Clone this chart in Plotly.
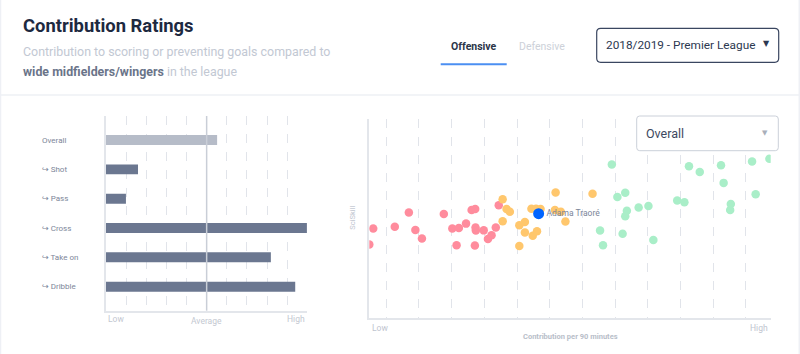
import plotly.graph_objects as go

W, H = 800, 354

# ---------------- data ----------------
bar_categories = ["Overall", "↪ Shot", "↪ Pass", "↪ Cross", "↪ Take on", "↪ Dribble"]
bar_values = [5.52, 1.59, 0.99, 9.98, 8.19, 9.40]
bar_tick_labels = ["Low", "Average", "High"]
bar_tick_values = [0, 5, 10]

red_x = [-0.52, -0.40, 0.26, 0.69, 0.89, 1.09, 1.76, 2.02, 2.22, 2.15, 2.44, 2.61, 2.72, 2.73, 2.74, 2.71, 2.98, 3.11, 3.22, 3.35, 3.44]
red_y = [37.0, 45.0, 45.9, 53.1, 44.3, 40.0, 52.3, 45.1, 45.3, 36.6, 47.5, 54.3, 54.9, 45.5, 44.0, 36.5, 44.1, 39.8, 41.7, 45.6, 56.8]

orange_x = [3.56, 3.68, 3.78, 3.56, 4.07, 4.24, 4.24, 4.07, 4.48, 4.61, 4.44, 4.58, 4.72, 5.18, 5.16, 5.34, 5.48, 6.31]
orange_y = [59.8, 54.9, 53.5, 48.7, 46.7, 48.3, 43.0, 36.2, 41.4, 43.7, 55.0, 55.0, 54.8, 63.2, 54.4, 53.5, 48.6, 62.5]

green_x = [6.90, 6.54, 6.63, 7.07, 7.31, 7.36, 7.31, 7.23, 7.72, 8.02, 8.17, 8.90, 9.12, 9.26, 9.59, 10.24, 10.32, 10.54, 10.52, 11.19, 11.72, 11.30]
green_y = [77.2, 44.0, 36.6, 60.9, 63.0, 54.0, 51.2, 42.4, 55.6, 56.4, 39.3, 59.1, 58.2, 76.4, 73.5, 76.9, 68.0, 57.4, 54.3, 78.8, 80.1, 62.3]

player_name = ["Adama Traoré"]
player_x = [4.66]
player_y = [52.5]

scatter_tick_labels = ["Low", "High"]

# ---------------- helpers ----------------
def px(x):
    return x / W

def py(y):
    return 1 - y / H

def rounded_rect(x0, y0, x1, y1, r):
    X0, X1 = px(x0), px(x1)
    Y0, Y1 = py(y0), py(y1)
    rx, ry = r / W, r / H
    return (f"M {X0+rx},{Y0} L {X1-rx},{Y0} Q {X1},{Y0} {X1},{Y0-ry} "
            f"L {X1},{Y1+ry} Q {X1},{Y1} {X1-rx},{Y1} L {X0+rx},{Y1} "
            f"Q {X0},{Y1} {X0},{Y1+ry} L {X0},{Y0-ry} Q {X0},{Y0} {X0+rx},{Y0} Z")

FONT = "Roboto, 'DejaVu Sans', sans-serif"
GRID = "#e1e4ea"
AXIS = "#e3e6eb"
LABEL_GREY = "#7d8699"

fig = go.Figure()

# ---------------- bar chart ----------------
bar_colors = ["#b6bcc8" if c == "Overall" else "#6b7790" for c in bar_categories]
fig.add_trace(go.Bar(
    x=bar_values, y=bar_categories, orientation="h",
    marker=dict(color=bar_colors, line=dict(width=0)),
    width=0.34, xaxis="x", yaxis="y", hoverinfo="x+y", showlegend=False,
))

# ---------------- scatter ----------------
def dots(xs, ys, color):
    fig.add_trace(go.Scatter(
        x=xs, y=ys, mode="markers",
        marker=dict(size=8.5, color=color, line=dict(width=0)),
        xaxis="x2", yaxis="y2", showlegend=False, hoverinfo="x+y",
    ))

dots(red_x, red_y, "#ff8c9d")
dots(orange_x, orange_y, "#ffc76d")
dots(green_x, green_y, "#a9eec8")

fig.add_trace(go.Scatter(
    x=player_x, y=player_y, mode="markers+text", text=player_name,
    textposition="middle right",
    textfont=dict(size=8.5, color="#7b8599", family=FONT),
    marker=dict(size=11, color="#0064ff", line=dict(width=0)),
    xaxis="x2", yaxis="y2", showlegend=False,
))

annotations = []
shapes = []

# bar category labels (left aligned)
arrow_span = ("<span style=\"font-family:'DejaVu Sans';color:%s\">↪</span>" % LABEL_GREY)
for c in bar_categories:
    annotations.append(dict(
        x=px(40), xref="paper", xanchor="left", y=c, yref="y", yanchor="middle",
        text=c.replace("↪", arrow_span), showarrow=False,
        font=dict(size=8, color=LABEL_GREY, family=FONT),
    ))

# bar x-axis labels
for v, t in zip(bar_tick_values, bar_tick_labels):
    anchor = "left" if v == bar_tick_values[0] else ("right" if v == bar_tick_values[-1] else "center")
    yy = 321 if anchor == "center" else 319
    annotations.append(dict(
        x=v, xref="x", xanchor=anchor, y=py(yy), yref="paper", yanchor="middle",
        text=t, showarrow=False, font=dict(size=8.5, color="#c3c8d1", family=FONT),
    ))

# average line
shapes.append(dict(type="line", xref="x", x0=bar_tick_values[1], x1=bar_tick_values[1],
                   yref="paper", y0=py(310.7), y1=py(116),
                   line=dict(color="#c9ced7", width=1.5), layer="above"))

# scatter axis labels
annotations.append(dict(x=px(370), xref="paper", xanchor="left", y=py(327.7), yref="paper",
                        yanchor="middle", text=scatter_tick_labels[0], showarrow=False,
                        font=dict(size=8.5, color="#c0c5cf", family=FONT)))
annotations.append(dict(x=px(770), xref="paper", xanchor="right", y=py(327.7), yref="paper",
                        yanchor="middle", text=scatter_tick_labels[1], showarrow=False,
                        font=dict(size=8.5, color="#c0c5cf", family=FONT)))
annotations.append(dict(x=px(570), xref="paper", xanchor="center", y=py(336), yref="paper",
                        yanchor="middle", text="<b>Contribution per 90 minutes</b>", showarrow=False,
                        font=dict(size=7.5, color="#b8bec9", family=FONT)))
annotations.append(dict(x=px(351.7), xref="paper", xanchor="center", y=py(218), yref="paper",
                        yanchor="middle", text="SciSkill", textangle=-90, showarrow=False,
                        font=dict(size=7.5, color="#c0c5cf", family=FONT)))

# header texts
annotations.append(dict(x=px(21), xref="paper", xanchor="left", y=py(25.5), yref="paper",
                        yanchor="middle", text="<b>Contribution Ratings</b>", showarrow=False,
                        font=dict(size=18.4, color="#1d2940", family=FONT)))
annotations.append(dict(x=px(21), xref="paper", xanchor="left", y=py(51), yref="paper",
                        yanchor="middle", text="Contribution to scoring or preventing goals compared to",
                        showarrow=False, font=dict(size=12.4, color="#c2c8d3", family=FONT)))
annotations.append(dict(x=px(21), xref="paper", xanchor="left", y=py(71), yref="paper",
                        yanchor="middle",
                        text="<b><span style='color:#6a7489'>wide midfielders/wingers</span></b> in the league",
                        showarrow=False, font=dict(size=12.4, color="#c2c8d3", family=FONT)))

# tabs
annotations.append(dict(x=px(474), xref="paper", xanchor="center", y=py(46), yref="paper",
                        yanchor="middle", text="<b>Offensive</b>", showarrow=False,
                        font=dict(size=10.5, color="#2b3548", family=FONT)))
annotations.append(dict(x=px(542), xref="paper", xanchor="center", y=py(46), yref="paper",
                        yanchor="middle", text="Defensive", showarrow=False,
                        font=dict(size=10.5, color="#cdd1d9", family=FONT)))
shapes.append(dict(type="line", xref="paper", yref="paper", x0=px(440.7), x1=px(506.7),
                   y0=py(64.3), y1=py(64.3), line=dict(color="#4b8ff2", width=2)))

# season dropdown
shapes.append(dict(type="path", xref="paper", yref="paper",
                   path=rounded_rect(596.7, 28.3, 778.7, 62.3, 4),
                   line=dict(color="#3a4660", width=1.2), fillcolor="white"))
annotations.append(dict(x=px(604), xref="paper", xanchor="left", y=py(45.5), yref="paper",
                        yanchor="middle", text="2018/2019 - Premier League", showarrow=False,
                        font=dict(size=11.8, color="#2c3850", family=FONT)))
annotations.append(dict(x=px(766), xref="paper", xanchor="center", y=py(44), yref="paper",
                        yanchor="middle", text="▼", showarrow=False,
                        font=dict(size=8, color="#2c3850", family="DejaVu Sans")))

# overall dropdown
shapes.append(dict(type="path", xref="paper", yref="paper",
                   path=rounded_rect(636.7, 116, 778.3, 150.7, 3),
                   line=dict(color="#cbd0d9", width=1), fillcolor="white", layer="above"))
annotations.append(dict(x=px(643.5), xref="paper", xanchor="left", y=py(133.5), yref="paper",
                        yanchor="middle", text="Overall", showarrow=False,
                        font=dict(size=12.5, color="#3d4960", family=FONT)))
annotations.append(dict(x=px(764.5), xref="paper", xanchor="center", y=py(132.5), yref="paper",
                        yanchor="middle", text="▼", showarrow=False,
                        font=dict(size=7, color="#a9afba", family="DejaVu Sans")))

# header separator & card borders
shapes.append(dict(type="line", xref="paper", yref="paper", x0=0, x1=1, y0=py(95), y1=py(95),
                   line=dict(color="#eef0f5", width=1.5)))
shapes.append(dict(type="line", xref="paper", yref="paper", x0=px(0.5), x1=px(0.5), y0=0, y1=1,
                   line=dict(color="#eef0f5", width=1.5)))
shapes.append(dict(type="line", xref="paper", yref="paper", x0=px(799.3), x1=px(799.3), y0=0, y1=1,
                   line=dict(color="#eef0f5", width=1.5)))

fig.update_layout(
    width=W, height=H,
    margin=dict(l=0, r=0, t=0, b=0),
    paper_bgcolor="white", plot_bgcolor="white",
    font=dict(family=FONT),
    xaxis=dict(domain=[px(106), px(307.3)], range=[0, 10], dtick=1, tick0=0,
               showgrid=True, gridcolor=GRID, griddash="dash", gridwidth=1,
               showline=True, linecolor=AXIS, linewidth=1.5, zeroline=False,
               showticklabels=False, ticks="", fixedrange=True),
    yaxis=dict(domain=[py(310.7), py(116)], range=[5.82, -0.82], type="category",
               showgrid=False, showline=True, linecolor=AXIS, linewidth=1.5,
               showticklabels=False, ticks="", zeroline=False, fixedrange=True),
    xaxis2=dict(domain=[px(369.3), px(770.7)], range=[-0.52, 11.76], dtick=1, tick0=0,
                showgrid=True, gridcolor=GRID, griddash="dash", gridwidth=1,
                showline=True, linecolor=AXIS, linewidth=1.5, zeroline=False,
                showticklabels=False, ticks="", anchor="y2", fixedrange=True),
    yaxis2=dict(domain=[py(318), py(119.3)], range=[0, 100],
                showgrid=False, showline=True, linecolor=AXIS, linewidth=1.5,
                showticklabels=False, ticks="", zeroline=False, anchor="x2", fixedrange=True),
    annotations=annotations,
    shapes=shapes,
    showlegend=False,
)

fig.write_html("out.html")
